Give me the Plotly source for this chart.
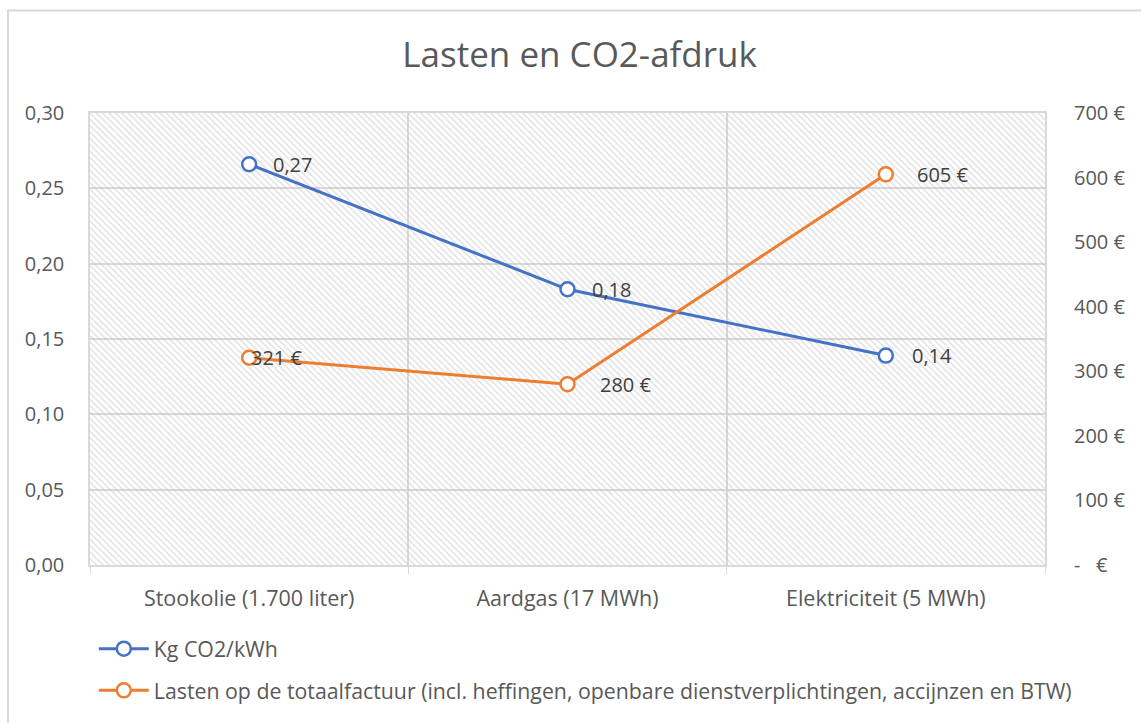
import plotly.graph_objects as go

categories = ["Stookolie (1.700 liter)", "Aardgas (17 MWh)", "Elektriciteit (5 MWh)"]
co2_values = [0.266, 0.183, 0.139]
co2_labels = ["0,27", "0,18", "0,14"]
cost_values = [321, 280, 605]
cost_labels = ["321 €", "280 €", "605 €"]
left_ticks = [0.00, 0.05, 0.10, 0.15, 0.20, 0.25, 0.30]
right_ticks = [0, 100, 200, 300, 400, 500, 600, 700]
right_ticktext = [("-\u00a0\u00a0\u00a0€" if v == 0 else f"{v} €") for v in right_ticks]

FONT = "Open Sans"
GRAY = "#595959"
BLUE = "#4472C4"
ORANGE = "#ED7D31"
GRID = "#d9d9d9"
FS = 20

xpos = list(range(len(categories)))
xmin, xmax = -0.5, len(categories) - 0.5
ymin, ymax = left_ticks[0], left_ticks[-1]

fig = go.Figure()

# hatched plot-area background
fig.add_trace(go.Scatter(
    x=[xmin, xmax, xmax, xmin, xmin], y=[ymin, ymin, ymax, ymax, ymin],
    mode="lines", line=dict(width=0), fill="toself",
    fillcolor="rgba(0,0,0,0)",
    fillpattern=dict(shape="\\", fgcolor="#bdbdbd", bgcolor="rgba(0,0,0,0)", size=4.5, solidity=0.3),
    hoverinfo="skip", showlegend=False))

fig.add_trace(go.Scatter(
    x=xpos, y=co2_values, name="Kg CO2/kWh", mode="lines+markers",
    line=dict(color=BLUE, width=3),
    marker=dict(symbol="circle", size=14, color="white", line=dict(color=BLUE, width=2.5)),
    legendgroup="a", yaxis="y"))

fig.add_trace(go.Scatter(
    x=xpos, y=cost_values,
    name="Lasten op de totaalfactuur (incl. heffingen, openbare dienstverplichtingen, accijnzen en BTW)",
    mode="lines+markers",
    line=dict(color=ORANGE, width=3),
    marker=dict(symbol="circle", size=14, color="white", line=dict(color=ORANGE, width=2.5)),
    legendgroup="b", yaxis="y2"))

co2_shift = [22, 22, 24]
cost_shift = [0, 30, 29]
for i in range(len(categories)):
    fig.add_annotation(x=xpos[i], y=co2_values[i], xref="x", yref="y", text=co2_labels[i],
                       showarrow=False, xanchor="left", xshift=co2_shift[i],
                       font=dict(family=FONT, size=FS, color="#404040"))
    fig.add_annotation(x=xpos[i], y=cost_values[i], xref="x", yref="y2", text=cost_labels[i],
                       showarrow=False, xanchor="left", xshift=cost_shift[i],
                       font=dict(family=FONT, size=FS, color="#404040"))

# outer chart border
fig.add_shape(type="rect", xref="paper", yref="paper",
              x0=-0.0859, x1=1.3, y0=-0.6, y1=1.2269,
              line=dict(color=GRID, width=2), fillcolor="rgba(0,0,0,0)", layer="below")

fig.update_layout(
    width=1141, height=723,
    margin=dict(l=90, r=96, t=113, b=156),
    paper_bgcolor="white", plot_bgcolor="white",
    separators=", ",
    font=dict(family=FONT, size=FS, color=GRAY),
    title=dict(text="Lasten en CO2-afdruk", x=0.508, xanchor="center", y=0.924, yanchor="middle",
               font=dict(family=FONT, size=35, color=GRAY)),
    xaxis=dict(range=[xmin, xmax], tickvals=xpos, ticktext=categories, showgrid=False,
               ticks="", showline=True, linecolor=GRID, linewidth=1.5, mirror=True,
               zeroline=False, ticklabelstandoff=13,
               minor=dict(tickvals=[xmin, 0.5, 1.5, xmax], ticks="outside", ticklen=7,
                          tickcolor=GRID, showgrid=True, gridcolor=GRID, gridwidth=1.5),
               tickfont=dict(family=FONT, size=21.5, color=GRAY)),
    yaxis=dict(range=[ymin, ymax], tickvals=left_ticks, tickformat=".2f",
               showgrid=True, gridcolor=GRID, gridwidth=1.5, zeroline=False,
               showline=True, linecolor=GRID, linewidth=1.5, mirror=True,
               ticks="", ticklabelstandoff=20,
               tickfont=dict(family=FONT, size=FS, color=GRAY)),
    yaxis2=dict(range=[right_ticks[0], right_ticks[-1]], tickvals=right_ticks, ticktext=right_ticktext,
                overlaying="y", side="right", showgrid=False, zeroline=False,
                showline=False, ticks="", ticklabelstandoff=28,
                tickfont=dict(family=FONT, size=FS, color=GRAY)),
    legend=dict(x=0.004, xanchor="left", y=-0.14, yanchor="top", orientation="v",
                traceorder="grouped", tracegroupgap=11, itemwidth=50,
                font=dict(family=FONT, size=21.3, color=GRAY), bgcolor="rgba(0,0,0,0)"),
    showlegend=True,
)

fig.write_html("out.html", config={"displayModeBar": False},
               post_script="document.body.style.margin='0';document.body.style.overflow='hidden';")
